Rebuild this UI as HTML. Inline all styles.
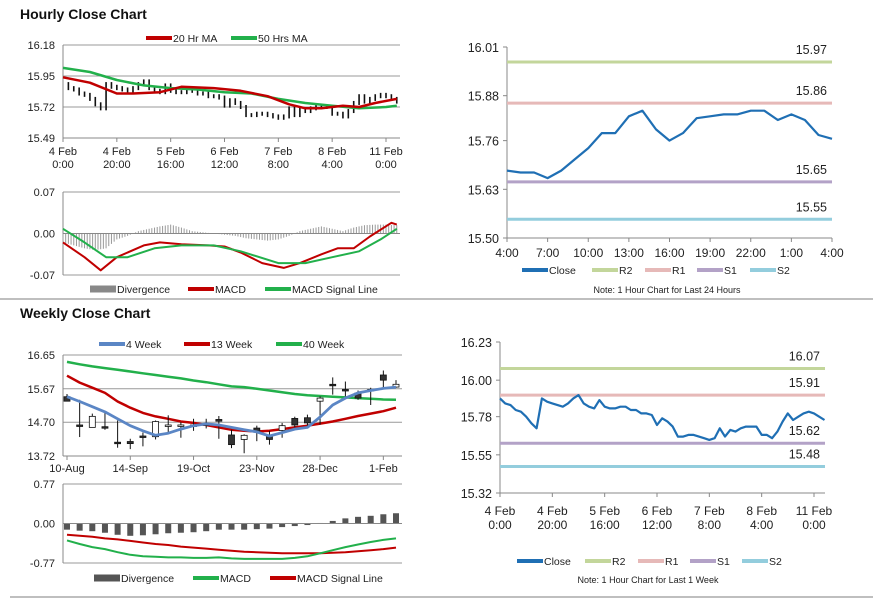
<!DOCTYPE html>
<html><head><meta charset="utf-8"><style>
html,body{margin:0;padding:0;background:#fff;}
svg{display:block;font-family:"Liberation Sans",Arial,sans-serif;}
</style></head><body>
<svg id="c" width="873" height="601" viewBox="0 0 873 601"></svg>
<script>
// ---------- DATA ----------
const hourlyCloseHours=[0,2,4,6,8,10,12,14,16,18,20,22,24,26,28,30,32,34,36,38,40,42,44,46,48,50,52,54,56,58,60,62,64,66,68,70,72,74,76,78,80,82,84,86,88,90,92,94,96,98,100,102,104,106,108,110,112,114,116,118,120,122,124];
const hourlyClose=[15.89,15.86,15.85,15.82,15.81,15.78,15.74,15.71,15.89,15.87,15.86,15.85,15.84,15.86,15.89,15.91,15.86,15.84,15.83,15.88,15.84,15.83,15.83,15.84,15.84,15.82,15.82,15.80,15.80,15.79,15.73,15.77,15.75,15.72,15.66,15.66,15.67,15.67,15.66,15.65,15.64,15.65,15.71,15.66,15.70,15.69,15.71,15.72,15.72,15.72,15.67,15.67,15.65,15.69,15.75,15.80,15.76,15.78,15.80,15.81,15.80,15.78,15.76];
const ma20Hours=[0,10,20,26,36,44,56,66,76,84,90,96,104,110,116,124];
const ma20=[15.94,15.90,15.82,15.82,15.83,15.87,15.86,15.84,15.80,15.74,15.71,15.71,15.73,15.72,15.75,15.78];
const ma50Hours=[0,10,20,30,40,50,60,70,80,90,100,110,120,124];
const ma50=[16.01,15.98,15.92,15.88,15.86,15.85,15.83,15.82,15.78,15.75,15.73,15.71,15.72,15.73];
const hMacdHours=[0,8,14,20,30,36,44,54,60,66,74,82,88,96,102,108,114,122,124];
const hMacd=[-0.015,-0.04,-0.062,-0.04,-0.02,-0.015,-0.018,-0.02,-0.022,-0.032,-0.05,-0.058,-0.05,-0.035,-0.025,-0.025,-0.005,0.018,0.015];
const hSigHours=[0,8,16,24,34,44,56,66,80,90,100,110,118,124];
const hSig=[0.008,-0.015,-0.04,-0.04,-0.025,-0.02,-0.02,-0.03,-0.05,-0.05,-0.04,-0.03,-0.01,0.008];
const hDivHours=[0,4,8,12,16,20,24,28,32,36,40,44,48,52,56,60,64,68,72,76,80,84,88,92,96,100,104,108,112,116,120,124];
const hDiv=[-0.015,-0.02,-0.025,-0.028,-0.025,-0.01,-0.004,0.004,0.008,0.012,0.015,0.01,0.004,0.002,0,-0.002,-0.004,-0.008,-0.01,-0.012,-0.01,-0.004,0.004,0.008,0.012,0.008,0.004,0.01,0.014,0.015,0.015,0.014];
const dayHours=[0,1,2,3,4,5,6,7,8,9,10,11,12,13,14,15,16,17,18,19,20,21,22,23,24];
const dayClose=[15.68,15.675,15.675,15.66,15.68,15.71,15.74,15.78,15.78,15.825,15.84,15.79,15.76,15.78,15.82,15.825,15.83,15.83,15.84,15.84,15.815,15.83,15.815,15.775,15.765];
const dayTicks=["4:00","7:00","10:00","13:00","16:00","19:00","22:00","1:00","4:00"];
const dayLevels=[15.97,15.86,15.65,15.55];
const weekLevels=[16.07,15.91,15.62,15.48];
const wOpen=[15.44,14.62,14.55,14.57,14.12,14.14,14.30,14.28,14.60,14.60,14.62,14.65,14.78,14.33,14.20,14.53,14.30,14.46,14.81,14.83,15.31,15.80,15.65,15.55,15.65,16.07,15.72];
const wClose=[15.31,14.60,14.87,14.55,14.10,14.08,14.28,14.72,14.62,14.62,14.60,14.62,14.73,14.05,14.32,14.42,14.20,14.60,14.62,14.68,15.40,15.80,15.65,15.40,15.65,15.92,15.80];
const wHigh=[15.52,15.35,14.95,14.98,14.75,14.22,14.40,14.75,14.90,14.70,14.80,14.80,14.88,14.48,14.35,14.60,14.45,14.68,14.86,14.92,15.45,16.00,15.88,15.62,15.70,16.20,15.92];
const wLow=[15.30,14.27,14.55,14.48,13.96,13.92,14.00,14.20,14.40,14.25,14.45,14.52,14.22,13.95,13.80,14.15,14.05,14.25,14.55,14.60,14.63,15.50,15.45,15.35,15.20,15.65,15.70];
const w4=[15.44,15.30,15.15,15.00,14.80,14.60,14.45,14.32,14.38,14.50,14.60,14.65,14.62,14.55,14.48,14.42,14.30,14.40,14.50,14.55,14.85,15.20,15.40,15.55,15.62,15.68,15.72];
const w13=[16.05,15.85,15.70,15.55,15.30,15.12,14.97,14.87,14.80,14.72,14.68,14.62,14.55,14.48,14.45,14.43,14.45,14.50,14.55,14.60,14.66,14.72,14.80,14.88,14.95,15.02,15.12];
const w40=[16.45,16.38,16.32,16.27,16.22,16.17,16.12,16.07,16.02,15.97,15.91,15.86,15.80,15.74,15.72,15.67,15.62,15.57,15.52,15.48,15.46,15.44,15.42,15.40,15.38,15.36,15.35];
const wDiv=[-0.12,-0.14,-0.15,-0.18,-0.22,-0.24,-0.23,-0.21,-0.19,-0.18,-0.17,-0.15,-0.12,-0.12,-0.12,-0.11,-0.10,-0.07,-0.05,-0.03,0.01,0.05,0.10,0.13,0.15,0.18,0.20];
const wMacd=[-0.33,-0.40,-0.46,-0.50,-0.56,-0.61,-0.64,-0.65,-0.66,-0.66,-0.67,-0.67,-0.66,-0.68,-0.69,-0.69,-0.69,-0.69,-0.67,-0.64,-0.58,-0.52,-0.46,-0.41,-0.36,-0.32,-0.29];
const wSig=[-0.22,-0.24,-0.26,-0.29,-0.31,-0.34,-0.37,-0.40,-0.42,-0.45,-0.47,-0.49,-0.51,-0.53,-0.55,-0.56,-0.57,-0.58,-0.58,-0.58,-0.58,-0.57,-0.56,-0.54,-0.52,-0.50,-0.47];
const weekTickIdx=[0,5,10,15,20,25];
const weekTicks=["10-Aug","14-Sep","19-Oct","23-Nov","28-Dec","1-Feb"];
const hourTicks=[["4 Feb","0:00"],["4 Feb","20:00"],["5 Feb","16:00"],["6 Feb","12:00"],["7 Feb","8:00"],["8 Feb","4:00"],["11 Feb","0:00"]];

// ---------- HELPERS ----------
const S=document.getElementById('c'),NS='http://www.w3.org/2000/svg';
function el(t,a,p){const e=document.createElementNS(NS,t);for(const k in a)e.setAttribute(k,a[k]);(p||S).appendChild(e);return e;}
function txt(x,y,s,size,anchor,name,extra){const e=el('text',Object.assign({x:x,y:y,'font-size':size||11,'text-anchor':anchor||'start',fill:'#222'},extra||{}));e.textContent=s;

return e;}
function lin(x0,x1,d0,d1){return v=>x0+(v-d0)*(x1-x0)/(d1-d0);}
function poly(xs,ys,fx,fy,col,w,name){const e=el('polyline',{points:xs.map((v,i)=>fx(v).toFixed(1)+','+fy(ys[i]).toFixed(1)).join(' '),fill:'none',stroke:col,'stroke-width':w,'stroke-linejoin':'round'});

return e;}
function hline(x0,x1,y,col,w,name){const e=el('line',{x1:x0,x2:x1,y1:y,y2:y,stroke:col,'stroke-width':w||1});

return e;}
function vline(x,y0,y1,col,w,name){const e=el('line',{x1:x,x2:x,y1:y0,y2:y1,stroke:col,'stroke-width':w||1});

return e;}
function interp(xs,ys,x){for(let i=1;i<xs.length;i++){if(x<=xs[i]){const t=(x-xs[i-1])/(xs[i]-xs[i-1]);return ys[i-1]+t*(ys[i]-ys[i-1]);}}return ys[ys.length-1];}
function legendLine(x,y,col,label,w){const l=hline(x,x+26,y,col,w||4,'legend-swatch');txt(x+27,y+4,label,10.5,'start','legend-entry');}
const AX='#888',GR='#999';

// ---------- SEPARATORS / TITLES ----------
hline(0,873,299,'#999',1.2,'section-divider');
hline(10,873,597,'#999',1.2,'section-divider');
txt(20,19,'Hourly Close Chart',14,'start','hourly-title',{'font-weight':'bold',fill:'#111'});
txt(20,318,'Weekly Close Chart',14,'start','weekly-title',{'font-weight':'bold',fill:'#111'});

// ---------- HOURLY PRICE ----------
{const fx=lin(63,386,0,120),fy=lin(45,138,16.18,15.49);
legendLine(146,38,'#c00000','20 Hr MA');legendLine(231,38,'#22b04b','50 Hrs MA');
[16.18,15.95,15.72].forEach(v=>hline(63,400,fy(v),GR,1,'gridline'));
hline(63,400,138,AX,1,'x-axis');vline(63,45,138,AX,1,'y-axis');
[16.18,15.95,15.72,15.49].forEach(v=>txt(55,fy(v)+4,v.toFixed(2),11,'end','y-tick-label'));
hourTicks.forEach((t,i)=>{const x=fx(i*20);vline(x,138,142,AX);txt(x,155,t[0],11,'middle','x-tick-label');txt(x,168,t[1],11,'middle','x-tick-label');});
for(let i=1;i<hourlyClose.length;i++){const a=hourlyClose[i-1],b=hourlyClose[i];const x=fx(hourlyCloseHours[i]);
const r=el('rect',{x:x-0.8,y:fy(Math.max(a,b))-2,width:1.6,height:Math.abs(fy(a)-fy(b))+4,fill:'#111'});

}
poly(ma50Hours,ma50,fx,fy,'#22b04b',2.5,'ma50-line');
poly(ma20Hours,ma20,fx,fy,'#c00000',2.5,'ma20-line');}

// ---------- HOURLY MACD ----------
{const fx=lin(63,386,0,120),fy=lin(192,275,0.07,-0.07);
hline(63,400,192,GR,1);hline(63,400,275,GR,1);vline(63,192,275,AX,1,'y-axis');
[0.07,0,-0.07].forEach(v=>txt(55,fy(v)+4,v.toFixed(2),11,'end','y-tick-label'));
for(let h=0;h<=124;h+=1){const d=interp(hDivHours,hDiv,h);
const r=el('rect',{x:fx(h)-0.5,y:Math.min(fy(0),fy(d)),width:1,height:Math.abs(fy(d)-fy(0)),fill:'#999'});

}
hline(63,400,fy(0),AX,1,'zero-line');
poly(hMacdHours,hMacd,fx,fy,'#c00000',2,'macd-line');
poly(hSigHours,hSig,fx,fy,'#22b04b',2,'signal-line');
legendLine(90,289,'#888','Divergence',7);legendLine(188,289,'#c00000','MACD');legendLine(265,289,'#22b04b','MACD Signal Line');}

// ---------- 24H CLOSE ----------
function levelChart(xs,ys,fx,fy,levels,x0,x1,y0,y1,yt,name){
hline(x0,x1,y1,AX,1,'x-axis');vline(x0,y0,y1,AX,1,'y-axis');
yt.forEach(v=>{hline(x0-4,x0,fy(v),AX,1,'tick');txt(x0-8,fy(v)+5,v.toFixed(2),12.5,'end','y-tick-label');});
const cols=['#c3d69b','#e6b9b8','#b3a2c7','#93cddd'],nm=['r2-line','r1-line','s1-line','s2-line'];
levels.forEach((v,i)=>{hline(x0,x1,fy(v),cols[i],3,nm[i]);txt(x1-5,fy(v)-8,v.toFixed(2),12.5,'end','level-value');});
poly(xs,ys,fx,fy,'#1f6fb4',2.2,name);}
{const fx=lin(507,832,0,24),fy=lin(47,238,16.01,15.50);
levelChart(dayHours,dayClose,fx,fy,dayLevels,507,832,47,238,[16.01,15.88,15.76,15.63,15.50],'close-24h-line');
dayTicks.forEach((t,i)=>{const x=fx(i*3);vline(x,238,242,AX);txt(x,257,t,12,'middle','x-tick-label');});
legendLine(522,270,'#1f6fb4','Close');legendLine(592,270,'#c3d69b','R2');legendLine(645,270,'#e6b9b8','R1');legendLine(697,270,'#b3a2c7','S1');legendLine(750,270,'#93cddd','S2');
txt(667,293,'Note: 1 Hour Chart for Last 24 Hours',9,'middle','chart-note');}

// ---------- WEEKLY PRICE ----------
{const fx=lin(67,396,0,26),fy=lin(355,456,16.65,13.72);
legendLine(99,344,'#5b86c5','4 Week');legendLine(184,344,'#c00000','13 Week');legendLine(276,344,'#22b04b','40 Week');
[16.65,15.67,14.70].forEach(v=>hline(63,402,fy(v),GR,1));
hline(63,402,456,AX,1,'x-axis');vline(63,355,456,AX,1,'y-axis');
[16.65,15.67,14.70,13.72].forEach(v=>txt(55,fy(v)+4,v.toFixed(2),11,'end','y-tick-label'));
weekTickIdx.forEach((k,i)=>{const x=fx(k);vline(x,456,460,AX);txt(x,472,weekTicks[i],11,'middle','x-tick-label');});
poly(wOpen.map((_,i)=>i),w40,fx,fy,'#22b04b',2.5,'week40-line');
poly(wOpen.map((_,i)=>i),w13,fx,fy,'#c00000',2.5,'week13-line');
wOpen.forEach((o,i)=>{const c=wClose[i],x=fx(i);vline(x,fy(wHigh[i]),fy(wLow[i]),'#111',1,'candle-wick');
const top=fy(Math.max(o,c)),h=Math.max(1.5,Math.abs(fy(o)-fy(c)));
const r=el('rect',{x:x-3,y:top,width:6,height:h,fill:c>o?'#fff':'#333',stroke:'#111','stroke-width':0.8});

});
poly(wOpen.map((_,i)=>i),w4,fx,fy,'#5b86c5',2.8,'week4-line');}

// ---------- WEEKLY MACD ----------
{const fx=lin(67,396,0,26),fy=lin(484,563,0.77,-0.77);
hline(63,402,484,GR,1);hline(63,402,563,GR,1);vline(63,484,563,AX,1,'y-axis');
[0.77,0,-0.77].forEach(v=>txt(55,fy(v)+4,v.toFixed(2),11,'end','y-tick-label'));
wDiv.forEach((d,i)=>{const r=el('rect',{x:fx(i)-3,y:Math.min(fy(0),fy(d)),width:6,height:Math.abs(fy(d)-fy(0)),fill:'#555'});

});
hline(63,402,fy(0),AX,1,'zero-line');
poly(wDiv.map((_,i)=>i),wSig,fx,fy,'#c00000',2,'signal-line');
poly(wDiv.map((_,i)=>i),wMacd,fx,fy,'#22b04b',2,'macd-line');
legendLine(94,578,'#555','Divergence',7);legendLine(193,578,'#22b04b','MACD');legendLine(270,578,'#c00000','MACD Signal Line');}

// ---------- WEEK CLOSE ----------
{const fx=lin(500,814,0,120),fy=lin(342,493,16.23,15.32);
levelChart(hourlyCloseHours,hourlyClose,fx,fy,weekLevels,500,825,342,493,[16.23,16.00,15.78,15.55,15.32],'close-week-line');
hourTicks.forEach((t,i)=>{const x=fx(i*20);vline(x,493,497,AX);txt(x,515,t[0],12,'middle','x-tick-label');txt(x,529,t[1],12,'middle','x-tick-label');});
legendLine(517,561,'#1f6fb4','Close');legendLine(585,561,'#c3d69b','R2');legendLine(638,561,'#e6b9b8','R1');legendLine(690,561,'#b3a2c7','S1');legendLine(742,561,'#93cddd','S2');
txt(648,583,'Note: 1 Hour Chart for Last 1 Week',9,'middle','chart-note');}
</script>
</body></html>
